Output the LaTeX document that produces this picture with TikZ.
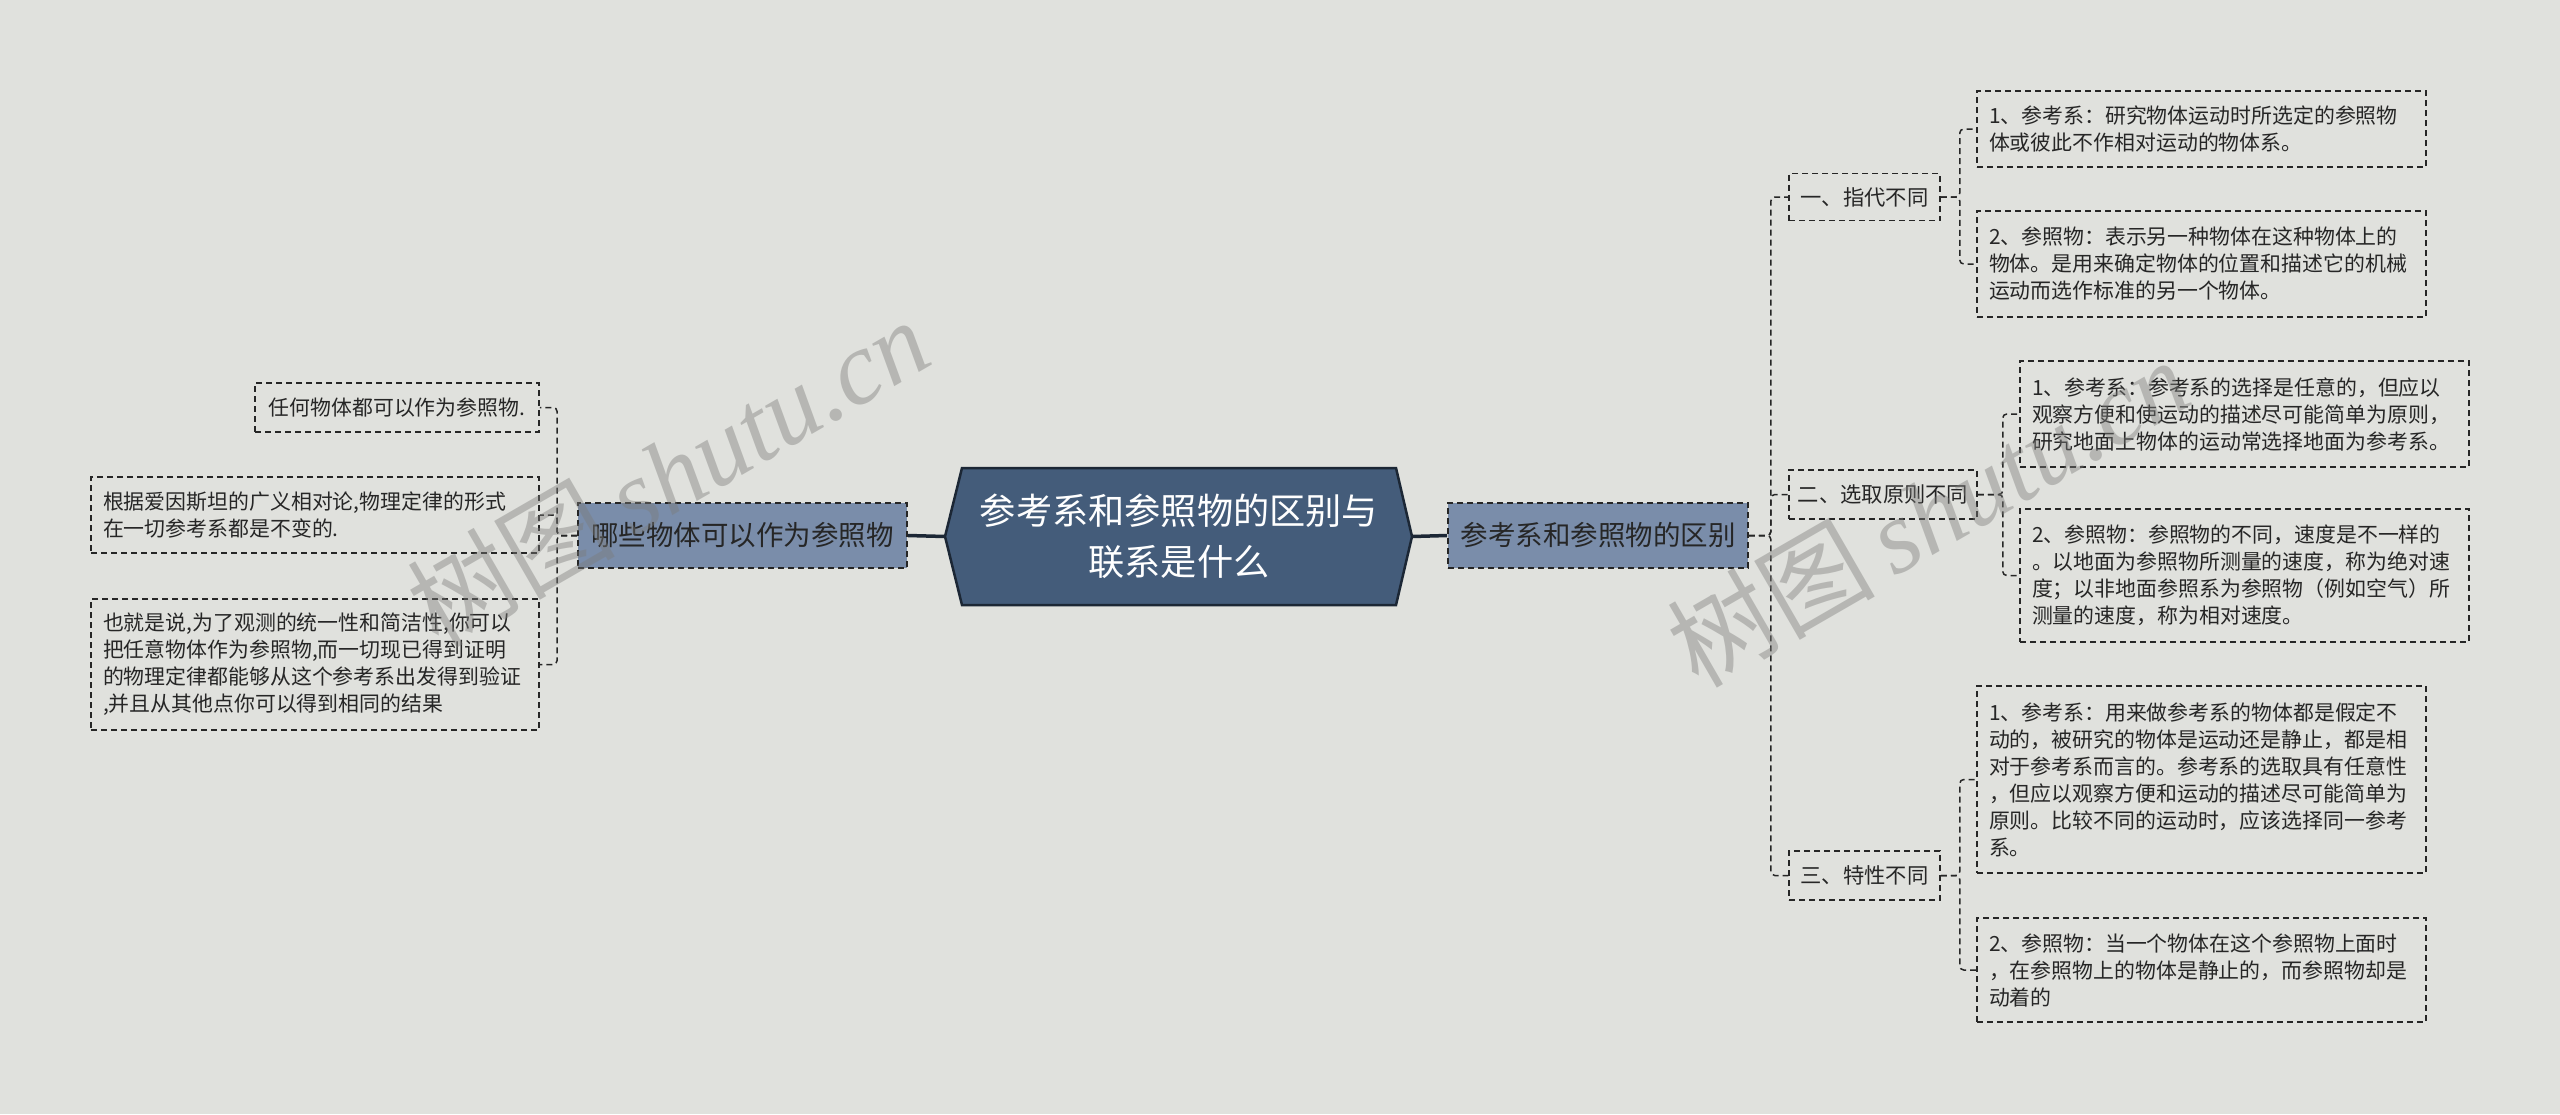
\documentclass[tikz,border=0pt]{standalone}
\usepackage{fontspec}
\setmainfont{Noto Sans CJK SC}
\newfontfamily\wmlatin{Liberation Serif}
\usetikzlibrary{calc}
\definecolor{bgc}{HTML}{E0E1DD}
\definecolor{centfill}{HTML}{445C7A}
\definecolor{centline}{HTML}{1C2735}
\definecolor{midfill}{HTML}{7A8DAA}
\definecolor{ink}{HTML}{262626}
\definecolor{wm}{HTML}{7C7C7A}
\tikzset{
  dsh/.style={dash pattern=on 6pt off 4pt},
  leafbox/.style={draw=ink, dsh, line width=1.5pt, inner xsep=12pt, inner ysep=0pt, align=left,
    text=ink, font=\fontsize{20.9pt}{27pt}\selectfont, anchor=center},
  subbox/.style={draw=ink, dsh, line width=1.5pt, inner sep=0pt, text=ink,
    font=\fontsize{21.3pt}{27pt}\selectfont, anchor=center},
  midbox/.style={draw=ink, dsh, fill=midfill, line width=1.8pt, inner sep=0pt, text=ink,
    font=\fontsize{27.5pt}{32pt}\selectfont, anchor=center},
  conn/.style={draw=ink, dsh, line width=1.5pt, rounded corners=4pt},
  thick conn/.style={draw=centline, line width=3.5pt},
  wmark/.style={text=wm, opacity=0.42, rotate=30, anchor=center, inner sep=0pt}
}
\begin{document}
\begin{tikzpicture}[x=1pt,y=-1pt]
\useasboundingbox (0,0) rectangle (2560,1114);
\fill[bgc] (0,0) rectangle (2560,1114);

% central node
\coordinate (cw) at (945,536.5);
\coordinate (ce) at (1412,536.5);
\fill[centfill,draw=centline,line width=2.5pt] (962,468) -- (1396,468) -- (ce) -- (1396,605) -- (962,605) -- (cw) -- cycle;
\node[anchor=center, inner sep=0pt, minimum width=434pt, minimum height=137pt, align=center, text=white,
  font=\fontsize{36.2pt}{51pt}\selectfont] (c) at (1179,536.5) {参考系和参照物的区别与\\联系是什么};

% level 1
\node[midbox, minimum width=329pt, minimum height=65pt] (L1) at (742.5,535.5) {哪些物体可以作为参照物};
\node[midbox, minimum width=300pt, minimum height=65pt] (R1) at (1598,535.5) {参考系和参照物的区别};
\draw[thick conn] (L1.east) -- (cw);
\draw[thick conn] (ce) -- (R1.west);

% level 2 right
\node[subbox, minimum width=151pt, minimum height=47pt] (a) at (1864.5,197) {一、指代不同};
\node[subbox, minimum width=188pt, minimum height=49pt] (b) at (1883,494.5) {二、选取原则不同};
\node[subbox, minimum width=151pt, minimum height=49pt] (d) at (1864.5,875.5) {三、特性不同};

% leaves right
\node[leafbox, text width=425pt, minimum height=76pt] (a1) at (2201.5,129) {1、参考系：研究物体运动时所选定的参照物\\体或彼此不作相对运动的物体系。};
\node[leafbox, text width=425pt, minimum height=106pt] (a2) at (2201.5,264) {2、参照物：表示另一种物体在这种物体上的\\物体。是用来确定物体的位置和描述它的机械\\运动而选作标准的另一个物体。};
\node[leafbox, text width=425pt, minimum height=106pt] (b1) at (2244.5,414) {1、参考系：参考系的选择是任意的，但应以\\观察方便和使运动的描述尽可能简单为原则，\\研究地面上物体的运动常选择地面为参考系。};
\node[leafbox, text width=425pt, minimum height=133pt] (b2) at (2244.5,575.5) {2、参照物：参照物的不同，速度是不一样的\\。以地面为参照物所测量的速度，称为绝对速\\度；以非地面参照系为参照物（例如空气）所\\测量的速度，称为相对速度。};
\node[leafbox, text width=425pt, minimum height=187pt] (d1) at (2201.5,779.5) {1、参考系：用来做参考系的物体都是假定不\\动的，被研究的物体是运动还是静止，都是相\\对于参考系而言的。参考系的选取具有任意性\\，但应以观察方便和运动的描述尽可能简单为\\原则。比较不同的运动时，应该选择同一参考\\系。};
\node[leafbox, text width=425pt, minimum height=104pt] (d2) at (2201.5,970) {2、参照物：当一个物体在这个参照物上面时\\，在参照物上的物体是静止的，而参照物却是\\动着的};

% leaves left
\node[leafbox, align=center, text width=260pt, minimum height=49pt] (l1) at (397,407.5) {任何物体都可以作为参照物.};
\node[leafbox, text width=424pt, minimum height=76pt] (l2) at (315,515) {根据爱因斯坦的广义相对论,物理定律的形式\\在一切参考系都是不变的.};
\node[leafbox, text width=424pt, minimum height=131pt] (l3) at (315,664.5) {也就是说,为了观测的统一性和简洁性,你可以\\把任意物体作为参照物,而一切现已得到证明\\的物理定律都能够从这个参考系出发得到验证\\,并且从其他点你可以得到相同的结果};

% connectors
\foreach \ch in {a,b,d}{
  \draw[conn] (R1.east) -- ++(22,0) |- (\ch.west);
}
\foreach \ch in {a1,a2}{
  \draw[conn] (a.east) -- ++(19,0) |- (\ch.west);
}
\foreach \ch in {b1,b2}{
  \draw[conn] (b.east) -- ++(25,0) |- (\ch.west);
}
\foreach \ch in {d1,d2}{
  \draw[conn] (d.east) -- ++(19,0) |- (\ch.west);
}
\foreach \ch in {l1,l2,l3}{
  \draw[conn] (L1.west) -- ++(-20,0) |- (\ch.east);
}

% watermarks
\node[wmark] (wm1) at (668,472) {\fontsize{104pt}{104pt}\selectfont 树图\,{\wmlatin\itshape shutu.cn}};
\node[wmark] (wm2) at (1928,512) {\fontsize{104pt}{104pt}\selectfont 树图\,{\wmlatin\itshape shutu.cn}};
\end{tikzpicture}
\end{document}
